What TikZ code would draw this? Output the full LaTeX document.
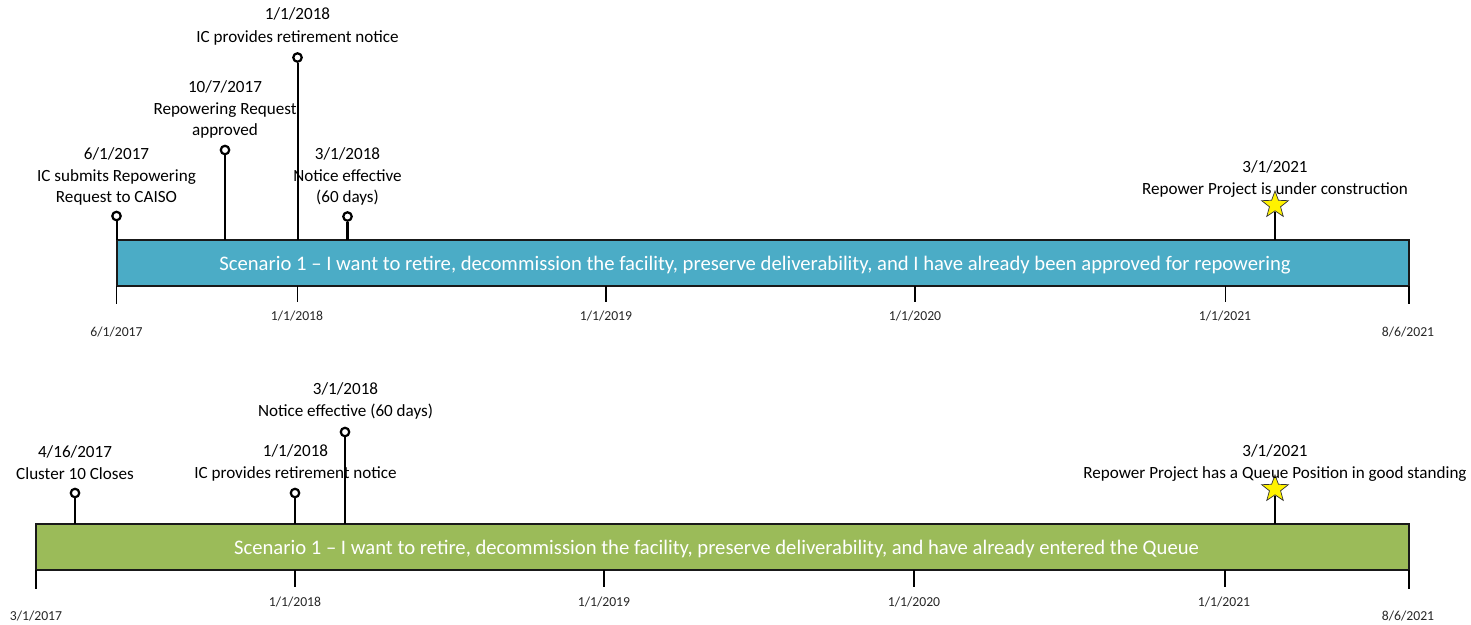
\documentclass[tikz,border=0pt]{standalone}
\usepackage{fontspec}
\setmainfont{Carlito}
\usetikzlibrary{shapes.geometric}
\tikzset{
  px/.style={x=1pt,y=-1pt},
  barbox/.style={draw=black!90,line width=2pt,outer sep=0pt,minimum height=46pt,inner sep=0pt},
  bartitle/.style={text=white,inner sep=0pt,font=\fontsize{20.67}{24}\selectfont},
  pinhead/.style={circle,draw=black,fill=white,line width=2.2pt,minimum size=8.5pt,inner sep=0pt},
  starmark/.style={star,star points=5,star point ratio=2.4,draw=black!80,fill=yellow,line width=0.7pt,minimum size=28pt,inner sep=0pt},
  stemline/.style={draw=black,line width=2pt},
  tickline/.style={draw=black,line width=1.8pt},
  evlabel/.style={align=center,inner sep=0pt,font=\fontsize{17.1}{21}\selectfont},
  axlabel/.style={inner sep=0pt,font=\fontsize{13.7}{15}\selectfont,text=black!85},
}
\begin{document}
\begin{tikzpicture}[px]
\useasboundingbox (0,0) rectangle (1471,624);
% bar 1
\node[barbox,fill={rgb,255:red,75;green,172;blue,198},minimum width=1292.5pt,anchor=north west] (barA) at (116.5,240) {};
\node[bartitle] (titleA) at (755,265) {Scenario 1 – I want to retire, decommission the facility, preserve deliverability, and I have already been approved for repowering};
\node[pinhead] (a1) at (116.5,216) {};
\node[pinhead] (a2) at (225,150) {};
\node[pinhead] (a3) at (297.5,57.5) {};
\node[pinhead] (a4) at (347.5,216.5) {};
\draw[stemline] (a1) -- (a1 |- barA.north);
\draw[stemline] (a2) -- (a2 |- barA.north);
\draw[stemline] (a3) -- (a3 |- barA.north);
\draw[stemline,line width=2.5pt] (a4) -- (a4 |- barA.north);
\coordinate (a5) at (1275,212);
\draw[stemline,line width=2.8pt] (a5) -- (a5 |- barA.north);
\node[starmark] (a5s) at (1275,205) {};
\node[evlabel] (la1) at (116.5,176) {6/1/2017\\[1pt]IC submits Repowering\\Request to CAISO};
\node[evlabel] (la2) at (225,109) {10/7/2017\\[1pt]Repowering Request\\approved};
\node[evlabel] (la3) at (297.5,26.5) {1/1/2018\\[2pt]IC provides retirement notice};
\node[evlabel] (la4) at (347.5,176) {3/1/2018\\[1pt]Notice effective\\(60 days)};
\node[evlabel] (la5) at (1275,179) {3/1/2021\\[1pt]Repower Project is under construction};
% bar 1 ticks
\coordinate (ta0) at (116.5,304);
\coordinate (ta1) at (297.5,302);
\coordinate (ta2) at (606,302);
\coordinate (ta3) at (915,302);
\coordinate (ta4) at (1225.5,302);
\coordinate (ta5) at (1409,304);
\foreach \t in {ta0,ta1,ta2,ta3,ta4,ta5} \draw[tickline] (\t |- barA.south) -- (\t);
\node[axlabel] (xa0) at (116.5,332) {6/1/2017};
\node[axlabel] (xa1) at (297,316.5) {1/1/2018};
\node[axlabel] (xa2) at (606,316.5) {1/1/2019};
\node[axlabel] (xa3) at (915,316.5) {1/1/2020};
\node[axlabel] (xa4) at (1225,316.5) {1/1/2021};
\node[axlabel] (xa5) at (1408,332) {8/6/2021};
% bar 2
\node[barbox,fill={rgb,255:red,155;green,187;blue,89},minimum width=1373pt,anchor=north west] (barB) at (36,524) {};
\node[bartitle] (titleB) at (716.5,549) {Scenario 1 – I want to retire, decommission the facility, preserve deliverability, and have already entered the Queue};
\node[pinhead] (b1) at (75,493) {};
\node[pinhead] (b2) at (295,493) {};
\node[pinhead] (b3) at (345,432) {};
\draw[stemline,line width=2.5pt] (b1) -- (b1 |- barB.north);
\draw[stemline] (b2) -- (b2 |- barB.north);
\draw[stemline,line width=2.5pt] (b3) -- (b3 |- barB.north);
\coordinate (b4) at (1275,496);
\draw[stemline] (b4) -- (b4 |- barB.north);
\node[starmark] (b4s) at (1275,489) {};
\node[evlabel] (lb1) at (75,463) {4/16/2017\\[1pt]Cluster 10 Closes};
\node[evlabel] (lb2) at (295.5,463) {1/1/2018\\[1pt]IC provides retirement notice};
\node[evlabel] (lb3) at (345.5,401) {3/1/2018\\[1pt]Notice effective (60 days)};
\node[evlabel] (lb4) at (1275,463) {3/1/2021\\[1pt]Repower Project has a Queue Position in good standing};
% bar 2 ticks
\coordinate (tb0) at (36,589);
\coordinate (tb1) at (295,587);
\coordinate (tb2) at (604,587);
\coordinate (tb3) at (914,587);
\coordinate (tb4) at (1225,587);
\coordinate (tb5) at (1409,589);
\foreach \t in {tb0,tb1,tb2,tb3,tb4,tb5} \draw[tickline] (\t |- barB.south) -- (\t);
\node[axlabel] (xb0) at (36,616) {3/1/2017};
\node[axlabel] (xb1) at (295,602.5) {1/1/2018};
\node[axlabel] (xb2) at (604,602.5) {1/1/2019};
\node[axlabel] (xb3) at (914,602.5) {1/1/2020};
\node[axlabel] (xb4) at (1224,602.5) {1/1/2021};
\node[axlabel] (xb5) at (1408,616) {8/6/2021};
\end{tikzpicture}
\end{document}
